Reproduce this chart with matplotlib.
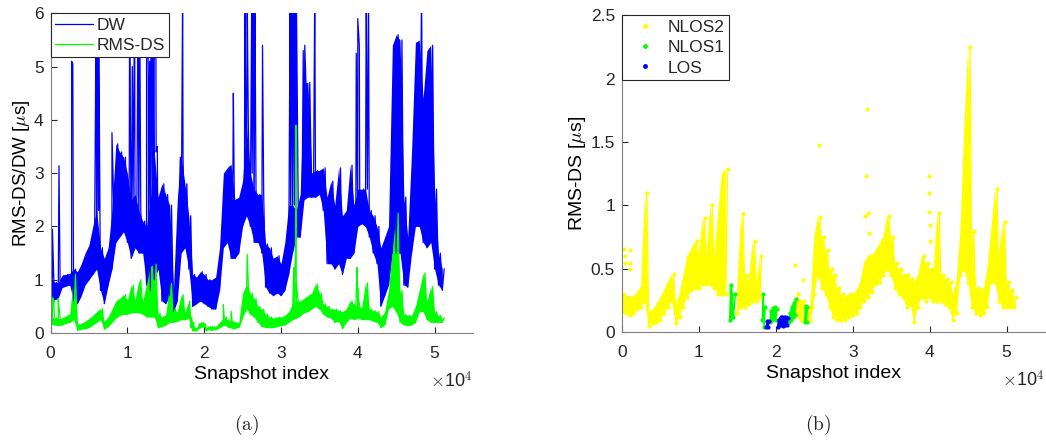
import numpy as np
import matplotlib.pyplot as plt
from matplotlib.lines import Line2D

plt.rcParams['font.family'] = ['Liberation Sans', 'DejaVu Sans']
plt.rcParams['mathtext.fontset'] = 'cm'
plt.rcParams['font.size'] = 12.5
plt.rcParams['text.color'] = '#262626'

# ============================================================
# Data (snapshot index in thousands)
# ============================================================

# RMS delay spread: per-bin min / max and link class
ds_k = [0, 0.5, 1, 1.5, 2, 2.5, 3, 3.5, 4, 4.5,
        5, 5.5, 6, 6.5, 7, 7.5, 8, 8.5, 9, 9.5,
        10, 10.5, 11, 11.5, 12, 12.5, 13, 13.5, 14, 14.5,
        15, 15.5, 16, 16.5, 17, 17.5, 18,
        18.25, 18.5, 18.75, 19, 19.25, 19.5, 19.75, 20, 20.25, 20.5,
        20.75, 21, 21.25, 21.5, 21.75, 22, 22.25, 22.5, 22.75, 23,
        23.25, 23.5, 23.75, 24, 24.25, 24.5,
        25, 25.5, 26, 26.5, 27, 27.5, 28, 28.5, 29, 29.5,
        30, 30.5, 31, 31.5, 32, 32.5, 33, 33.5, 34, 34.5,
        35, 35.5, 36, 36.5, 37, 37.5, 38, 38.5, 39, 39.5,
        40, 40.5, 41, 41.5, 42, 42.5, 43, 43.5, 44, 44.5,
        45, 45.5, 46, 46.5, 47, 47.5, 48, 48.5, 49, 49.5,
        50, 50.5, 51]
ds_lo = [.17, .15, .14, .15, .18, .20, .25, .05, .07, .08,
         .10, .15, .20, .25, .07, .12, .20, .28, .33, .35,
         .35, .38, .38, .38, .35, .30, .30, .30, .10, .12,
         .15, .20, .20, .22, .25, .25, .28,
         .10, .04, .04, .04, .08, .10, .12, .10, .04, .06,
         .06, .05, .06, .06, .08, .10, .12, .14, .15, .12,
         .10, .10, .08, .08, .10, .10,
         .30, .45, .35, .30, .20, .12, .10, .10, .10, .12,
         .14, .15, .20, .25, .28, .32, .38, .40, .45, .50,
         .45, .35, .30, .28, .20, .22, .08, .20, .28, .25,
         .28, .25, .25, .25, .22, .20, .10, .15, .45, .50,
         .40, .20, .15, .14, .15, .20, .40, .40, .25, .20,
         .20, .20, .20]
ds_hi = [.30, .28, .27, .28, .32, .36, 1.10, .16, .18, .22,
         .27, .33, .40, .46, .22, .30, .45, .60, .65, .72,
         .62, .90, .62, 1.00, .60, .93, 1.25, 1.29, .37, .30,
         .35, .93, .45, .40, .72, .40, .60,
         .30, .20, .09, .09, .17, .19, .20, .18, .10, .12,
         .12, .12, .12, .11, .15, .20, .23, .26, .30, .25,
         .22, .25, .21, .20, .19, .20,
         .75, .91, .75, .65, .50, .45, .35, .30, .28, .30,
         .30, .33, .40, .55, .60, .60, .65, .70, .75, .92,
         .75, .55, .50, .45, .45, .42, .40, .45, .60, .55,
         .50, .48, .94, .45, .42, .40, .30, .40, .80, 1.60,
         2.25, .80, .35, .33, .33, .50, .80, 1.13, .60, .87,
         .40, .33, .28]
ds_cls = (['NLOS2'] * 28 + ['NLOS1'] * 2 + ['NLOS2'] * 7
          + ['NLOS1'] * 2 + ['LOS'] * 2 + ['NLOS1'] * 4 + ['LOS'] * 6
          + ['NLOS1'] * 4 + ['NLOS2'] * 4 + ['NLOS1'] * 2 + ['NLOS2'] * 2
          + ['NLOS2'] * 53)

# isolated RMS-DS samples outside the main band
ds_out_k = [0.3, 0.35, 0.45, 1.0, 1.05, 1.1, 22.5, 23.5, 25.6, 31.6,
            31.7, 31.9, 31.95, 32.0, 32.1, 39.9, 39.9, 39.95, 40.0, 40.0]
ds_out_v = [0.66, 0.55, 0.60, 0.65, 0.55, 0.50, 0.53, 0.41, 1.48, 0.92,
            1.23, 1.76, 3.90, 0.94, 0.78, 1.23, 1.10, 0.95, 0.85, 0.72]

# delay window: per-bin min / max every 500 snapshots
dw_k = np.arange(0, 51.5, 0.5)
dw_lo = [.70, .62, .65, .85, .88, .90, .60, .55, .70, .90,
         1.00, 1.10, 1.20, .80, .55, .90, 1.20, 1.70, 1.80, 1.90,
         1.70, 1.40, 1.60, 1.50, 1.50, .90, .80, 1.00, 1.20, .60,
         .55, .70, .40, .60, 1.50, 1.60, 1.20, .50, .55, .60,
         .55, .50, .45, .45, .80, 1.60, 1.70, 1.40, 1.40, 1.50,
         2.00, 2.20, 2.00, 1.70, 1.70, 1.50, .86, .75, .70, .75,
         .70, .80, 1.10, 1.50, 1.80, 1.80, 2.50, 2.55, 2.55, 2.55,
         2.60, 2.30, 1.30, 1.30, 1.20, 1.30, 1.10, 1.40, 1.40, 1.50,
         2.00, 2.05, 2.00, 1.80, 1.50, 1.30, .50, .70, .90, 1.50,
         1.50, 1.50, .90, .86, 1.50, 2.00, 2.00, 1.70, 1.60, 1.70,
         1.20, .90, .80]
dw_hi = [1.05, .95, .95, 1.08, 1.10, 1.12, 1.20, 1.15, 1.30, 1.50,
         1.65, 2.00, 2.30, 1.60, 1.40, 1.60, 2.30, 3.55, 3.40, 3.30,
         3.00, 2.50, 2.60, 2.30, 2.10, 2.00, 2.50, 3.40, 2.55, 2.80,
         2.60, 2.40, .80, 2.50, 3.30, 2.80, 2.20, 1.10, 1.05, 1.15,
         1.10, 1.00, 1.00, 1.05, 1.60, 3.00, 3.10, 3.17, 2.50, 2.55,
         2.85, 3.90, 3.00, 2.70, 2.60, 2.60, 1.67, 1.60, 1.40, 1.45,
         1.30, 1.70, 2.40, 2.40, 2.30, 2.60, 4.70, 4.70, 3.00, 3.05,
         3.05, 3.10, 2.55, 2.85, 2.40, 3.10, 2.20, 2.30, 3.15, 2.40,
         2.70, 2.70, 2.70, 2.30, 2.20, 2.00, 1.60, 1.80, 2.00, 5.40,
         5.60, 5.50, 2.55, 1.80, 3.40, 5.45, 5.50, 4.40, 5.30, 5.40,
         2.70, 1.50, 1.20]

# narrow DW spikes
dw_spk_k = [0.25, 1.1, 2.75, 2.9, 5.95, 6.1, 6.25, 8.0,
            10.3, 10.65, 10.95, 11.4, 11.6, 12.5, 12.7, 12.9, 13.1, 13.3, 13.5, 13.7, 13.9,
            16.9, 17.2, 23.8, 25.3, 25.6, 26.2, 26.4, 26.6, 27.6,
            31.2, 31.4, 31.6, 31.8, 32.0, 32.9, 33.1, 34.4,
            39.8, 40.0, 40.2, 41.1, 41.4, 48.3]
dw_spk_v = [1.95, 3.14, 5.1, 5.05, 6.5, 6.5, 6.5, 3.76,
            6.5, 5.0, 6.5, 6.5, 6.5, 5.0, 6.5, 5.1, 6.5, 6.5, 5.1, 6.5, 3.5,
            3.3, 6.5, 4.5, 6.5, 6.5, 6.5, 6.5, 6.5, 5.4,
            6.5, 6.5, 6.5, 6.5, 6.5, 5.3, 5.4, 6.5,
            5.25, 5.9, 5.4, 6.5, 6.5, 6.5]

classes = ['NLOS2', 'NLOS1', 'LOS']
cls_color = {'NLOS2': (1, 1, 0), 'NLOS1': (0, 1, 0), 'LOS': (0, 0, 1)}


# ============================================================
# Helpers
# ============================================================

def zigzag(k, lo, hi):
    """Alternate min / max of each bin to rebuild the dense trace."""
    k = np.asarray(k, float)
    step = np.diff(k, append=k[-1] + (k[-1] - k[-2]))
    x = np.column_stack([k, k + step / 2]).ravel()
    y = np.column_stack([lo, hi]).ravel()
    return x * 1e3, y


def merge(x, y, sk, sv):
    xx = np.concatenate([x, np.asarray(sk) * 1e3])
    yy = np.concatenate([y, sv])
    order = np.argsort(xx, kind='stable')
    return xx[order], yy[order]


def style_axes(ax, ylim, yticks, yticklabels):
    ax.set_xlim(0, 55000)
    ax.set_ylim(*ylim)
    ax.set_xticks([0, 10000, 20000, 30000, 40000, 50000])
    ax.set_xticklabels(['0', '1', '2', '3', '4', '5'])
    ax.set_yticks(yticks)
    ax.set_yticklabels(yticklabels)
    for side in ['top', 'right']:
        ax.spines[side].set_visible(False)
    for side in ['left', 'bottom']:
        ax.spines[side].set_color('#7f7f7f')
        ax.spines[side].set_linewidth(0.8)
    ax.tick_params(direction='in', length=4, width=0.8, color='#262626',
                   labelcolor='#262626', labelsize=12.5)
    ax.tick_params(axis='x', pad=9)
    ax.tick_params(axis='y', pad=5)
    ax.set_xlabel('Snapshot index', labelpad=4, fontsize=14)
    ax.text(1.0, -0.15, r'$\times$10$^{4}$', transform=ax.transAxes,
            ha='right', va='center', fontsize=13)


# ============================================================
# Figure
# ============================================================

fig = plt.figure(figsize=(10.46, 4.42), dpi=100)
ax1 = fig.add_axes([0.0483, 0.2466, 0.4039, 0.7233])
ax2 = fig.add_axes([0.5945, 0.2482, 0.4046, 0.7172])

blue, green = (0, 0, 1), (0, 1, 0)

# ------------------------------------------------------------
# (a) DW and RMS-DS traces
# ------------------------------------------------------------
x_dw, y_dw = merge(*zigzag(dw_k, dw_lo, dw_hi), dw_spk_k, dw_spk_v)
x_ds, y_ds = merge(*zigzag(ds_k, ds_lo, ds_hi), ds_out_k, ds_out_v)

ax1.fill_between(np.asarray(dw_k) * 1e3, dw_lo, dw_hi, color=blue, lw=0)
l_dw, = ax1.plot(x_dw, y_dw, color=blue, lw=0.9, label='DW')
ax1.fill_between(np.asarray(ds_k) * 1e3, ds_lo, ds_hi, color=green, lw=0)
l_ds, = ax1.plot(x_ds, y_ds, color=green, lw=0.9, label='RMS-DS')
style_axes(ax1, (0, 6), [0, 1, 2, 3, 4, 5, 6],
           ['0', '1', '2', '3', '4', '5', '6'])
ax1.set_ylabel(r'RMS-DS/DW [$\mu$s]', labelpad=1, fontsize=13.5)
ax1.legend(loc='upper left', borderaxespad=0, fancybox=False,
           edgecolor='#262626', framealpha=1, borderpad=0.25,
           labelspacing=0.3, handlelength=2.2, handletextpad=0.2,
           fontsize=12.5).get_frame().set_linewidth(0.8)

# ------------------------------------------------------------
# (b) RMS-DS per link class
# ------------------------------------------------------------
cls_arr = np.array(ds_cls)
ds_x = np.asarray(ds_k) * 1e3
for c in classes:
    lo = np.where(cls_arr == c, ds_lo, np.nan)
    hi = np.where(cls_arr == c, ds_hi, np.nan)
    z = 2 if c == 'NLOS2' else 3
    ax2.fill_between(ds_x, lo, hi, color=cls_color[c], lw=0, zorder=z)
    xs, ys = zigzag(ds_k, lo, hi)
    ax2.plot(xs, ys, color=cls_color[c], lw=1.0, marker='.', ms=4, zorder=z)
ax2.plot(np.asarray(ds_out_k) * 1e3, ds_out_v, ls='none', marker='.', ms=4,
         color=cls_color['NLOS2'], zorder=2)

style_axes(ax2, (0, 2.5), [0, 0.5, 1, 1.5, 2, 2.5],
           ['0', '0.5', '1', '1.5', '2', '2.5'])
ax2.set_ylabel(r'RMS-DS [$\mu$s]', labelpad=2, fontsize=14)
handles = [Line2D([], [], ls='none', marker='.', ms=5, color=cls_color[c])
           for c in classes]
ax2.legend(handles, classes, loc='upper left', borderaxespad=0,
           fancybox=False, edgecolor='#262626', framealpha=1,
           borderpad=0.25, labelspacing=0.3, handlelength=2.2,
           handletextpad=0.2, fontsize=12.5).get_frame().set_linewidth(0.8)

# sub-figure captions
fig.text(0.2352, 0.038, r'$\mathrm{(a)}$', ha='center', va='center', fontsize=14)
fig.text(0.782, 0.038, r'$\mathrm{(b)}$', ha='center', va='center', fontsize=14)

fig.savefig('out.png', dpi=100)
